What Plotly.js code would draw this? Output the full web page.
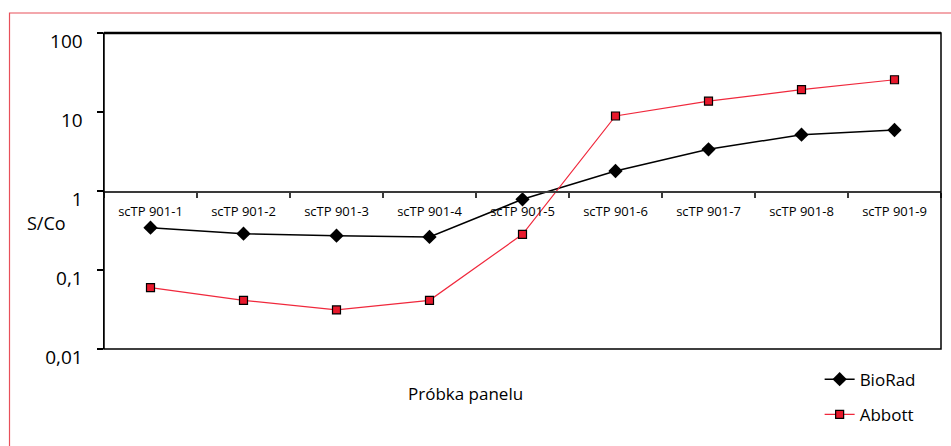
<!DOCTYPE html>
<html>
<head>
<meta charset="utf-8">
<script src="https://cdn.plot.ly/plotly-3.0.1.min.js"></script>
<style>html,body{margin:0;padding:0;background:#fff;}#chart{width:951px;height:446px;}</style>
</head>
<body>
<div id="chart"></div>
<script>
var categories = ["scTP 901-1","scTP 901-2","scTP 901-3","scTP 901-4","scTP 901-5","scTP 901-6","scTP 901-7","scTP 901-8","scTP 901-9"];
var bioRad = [0.343, 0.288, 0.272, 0.262, 0.785, 1.79, 3.37, 5.16, 5.92];
var abbott = [0.0597, 0.0413, 0.0312, 0.0413, 0.283, 8.9, 13.7, 19.2, 25.6];
var yTickVals = [0.01, 0.1, 1, 10, 100];
var yTickText = ["0,01", "0,1", "1", "10", "100"];
var seriesNames = ["BioRad", "Abbott"];
var yTitle = "S/Co";
var xTitle = "Próbka panelu";

var FONT = "Open Sans, Noto Sans, DejaVu Sans, sans-serif";

var traces = [
  {
    x: categories, y: bioRad, name: seriesNames[0], type: "scatter", mode: "lines+markers",
    legendgroup: "g1",
    line: {color: "#000000", width: 1.5},
    marker: {symbol: "diamond", size: 11, color: "#000000"}
  },
  {
    x: categories, y: abbott, name: seriesNames[1], type: "scatter", mode: "lines+markers",
    legendgroup: "g2",
    line: {color: "#f0283c", width: 1.2},
    marker: {symbol: "square", size: 8, color: "#e8192c", line: {color: "#000000", width: 1.2}}
  }
];

var layout = {
  width: 951, height: 446,
  margin: {l: 104, r: 10, t: 33, b: 97},
  paper_bgcolor: "#ffffff", plot_bgcolor: "#ffffff",
  font: {family: FONT, color: "#000000"},
  showlegend: true,
  legend: {
    x: 0.855, xanchor: "left", y: -0.04, yanchor: "top",
    font: {size: 17, family: FONT}, bgcolor: "rgba(0,0,0,0)",
    tracegroupgap: 10
  },
  xaxis: {
    type: "category", range: [-0.5, 8.5],
    anchor: "free", position: 0.5,
    showline: true, linecolor: "#3a3a3a", linewidth: 1.5,
    showgrid: false, zeroline: false,
    ticks: "outside", ticklen: 5, tickwidth: 1.2, tickcolor: "#3a3a3a",
    tickson: "boundaries",
    tickfont: {size: 13, family: FONT, color: "#000000"},
    tickangle: 0, ticklabelstandoff: 8
  },
  yaxis: {
    type: "log", range: [-2, 2],
    tickvals: yTickVals, ticktext: yTickText,
    showline: true, linecolor: "#000000", linewidth: 1.5,
    showgrid: false, zeroline: false,
    ticks: "outside", ticklen: 6, tickwidth: 1.2, tickcolor: "#000000",
    tickfont: {size: 19, family: FONT, color: "#000000"},
    ticklabelshift: 8, ticklabelstandoff: 10
  },
  shapes: [
    {type: "rect", xref: "paper", yref: "paper", x0: 0, x1: 1, y0: 0, y1: 1,
     line: {color: "#000000", width: 1.5}, fillcolor: "rgba(0,0,0,0)"},
    {type: "line", xref: "paper", yref: "paper", x0: 0, x1: 1, y0: 1, y1: 1,
     line: {color: "#000000", width: 2.5}},
    {type: "rect", xref: "paper", yref: "paper", x0: -0.1129, x1: 1.2, y0: -0.6, y1: 1.0633,
     line: {color: "#e8505a", width: 1.2}, fillcolor: "rgba(0,0,0,0)", layer: "below"}
  ],
  annotations: [
    {text: yTitle, xref: "paper", yref: "paper", x: -0.0944, y: 0.398, xanchor: "left", yanchor: "middle",
     showarrow: false, font: {size: 18, family: FONT, color: "#000000"}},
    {text: xTitle, xref: "paper", yref: "paper", x: (465 - 104) / 837, y: -0.142, xanchor: "center", yanchor: "middle",
     showarrow: false, font: {size: 17, family: FONT, color: "#000000"}}
  ]
};

Plotly.newPlot("chart", traces, layout, {displayModeBar: false, staticPlot: true});
</script>
</body>
</html>
